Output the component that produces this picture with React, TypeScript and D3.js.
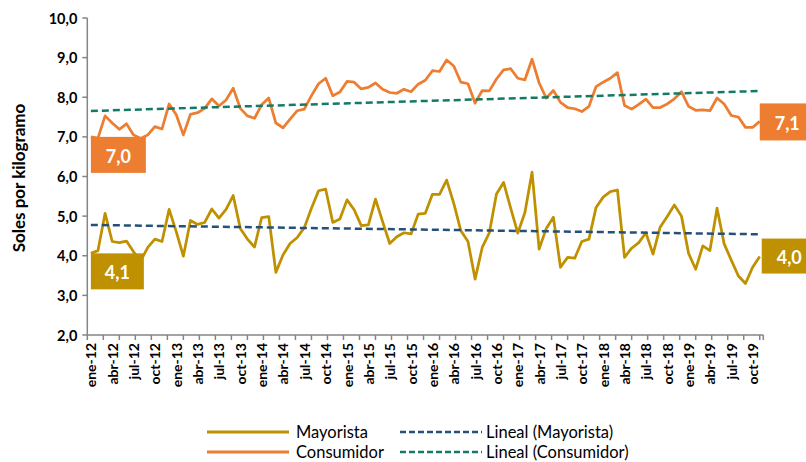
import React from "react";
import * as d3 from "d3";

const monthNames = ["ene", "feb", "mar", "abr", "may", "jun", "jul", "ago", "sep", "oct", "nov", "dic"];
const years = ["12", "13", "14", "15", "16", "17", "18", "19"];

const consumidor = [
  7.0, 6.97, 7.53, 7.35, 7.19, 7.33, 7.05, 6.96, 7.05, 7.26, 7.2, 7.83,
  7.56, 7.05, 7.57, 7.61, 7.72, 7.96, 7.78, 7.93, 8.23, 7.72, 7.53, 7.47,
  7.81, 7.98, 7.35, 7.23, 7.45, 7.66, 7.7, 8.04, 8.34, 8.48, 8.04, 8.13,
  8.4, 8.38, 8.21, 8.25, 8.36, 8.2, 8.12, 8.1, 8.2, 8.14, 8.33, 8.43,
  8.67, 8.65, 8.94, 8.79, 8.38, 8.34, 7.85, 8.17, 8.16, 8.46, 8.69, 8.72,
  8.48, 8.44, 8.96, 8.36, 7.98, 8.17, 7.87, 7.74, 7.71, 7.64, 7.77, 8.27,
  8.38, 8.48, 8.62, 7.79, 7.7, 7.82, 7.95, 7.74, 7.74, 7.83, 7.96, 8.14,
  7.77, 7.67, 7.68, 7.66, 7.98, 7.83, 7.54, 7.5, 7.24, 7.24, 7.39,
];

const mayorista = [
  4.06, 4.13, 5.07, 4.36, 4.33, 4.37, 4.1, 3.87, 4.21, 4.42, 4.36, 5.17,
  4.61, 3.99, 4.89, 4.79, 4.84, 5.18, 4.95, 5.17, 5.52, 4.69, 4.42, 4.22,
  4.96, 4.99, 3.58, 4.02, 4.31, 4.46, 4.71, 5.2, 5.64, 5.68, 4.84, 4.93,
  5.41, 5.16, 4.76, 4.78, 5.43, 4.86, 4.31, 4.48, 4.58, 4.55, 5.05, 5.07,
  5.55, 5.55, 5.91, 5.32, 4.63, 4.36, 3.41, 4.21, 4.58, 5.56, 5.85, 5.2,
  4.57, 5.09, 6.11, 4.17, 4.69, 4.97, 3.71, 3.96, 3.94, 4.36, 4.42, 5.22,
  5.48, 5.62, 5.66, 3.96, 4.19, 4.33, 4.58, 4.04, 4.72, 4.99, 5.28, 5.0,
  4.06, 3.66, 4.25, 4.13, 5.2, 4.3, 3.89, 3.49, 3.3, 3.71, 3.98,
];

const yTicks = [2, 3, 4, 5, 6, 7, 8, 9, 10];
const firstLabels = { consumidor: "7,0", mayorista: "4,1" };
const lastLabels = { consumidor: "7,1", mayorista: "4,0" };
const legendItems = ["Mayorista", "Consumidor", "Lineal (Mayorista)", "Lineal (Consumidor)"];

const categories: string[] = [];
years.forEach((yy) => monthNames.forEach((m) => categories.push(`${m}-${yy}`)));
const N = consumidor.length;
const cats = categories.slice(0, N);

const GOLD = "#BF9000";
const ORANGE = "#ED7D31";
const BLUE = "#24507A";
const TEAL = "#137A66";
const AXIS = "#858585";
const FONT = "Lato, 'Open Sans', sans-serif";

function linReg(vals: number[]) {
  const xs = vals.map((_, i) => i + 1);
  const mx = d3.mean(xs) as number;
  const my = d3.mean(vals) as number;
  let num = 0, den = 0;
  xs.forEach((x, i) => {
    num += (x - mx) * (vals[i] - my);
    den += (x - mx) * (x - mx);
  });
  const b = num / den;
  const a = my - b * mx;
  return (x: number) => a + b * x;
}

export default function App() {
  const W = 806, H = 462;
  const x0 = 87.3, x1 = 763.3, yTop = 18, yBot = 335;
  const xs = d3.scaleLinear().domain([0, N]).range([x0, x1]);
  const cx = (i: number) => xs(i + 0.5);
  const y = d3.scaleLinear().domain([2, 10]).range([yBot, yTop]);
  const line = d3.line<number>().x((_, i) => cx(i)).y((d) => y(d));

  const regC = linReg(consumidor);
  const regM = linReg(mayorista);
  const trend = (f: (x: number) => number) =>
    `M${cx(0)},${y(f(1))}L${cx(N - 1)},${y(f(N))}`;

  const tickStep = 2.25;
  const xTickPos: number[] = [];
  for (let k = 0; k * tickStep <= N; k++) xTickPos.push(k * tickStep);
  xTickPos.push(N);

  const fmt = (v: number) => d3.format(".1f")(v).replace(".", ",");

  const box = (
    x: number, yy: number, w: number, h: number, fill: string, text: string
  ) => (
    <g>
      <rect x={x} y={yy} width={w} height={h} fill={fill} />
      <text
        x={x + w / 2}
        y={yy + h / 2 + 1}
        textAnchor="middle"
        dominantBaseline="central"
        fill="#fff"
        fontWeight="bold"
        fontSize={18}
        fontFamily={FONT}
      >
        {text}
      </text>
    </g>
  );

  return (
    <svg
      width={W}
      height={H}
      style={{ position: "absolute", left: 0, top: 0, background: "#fff" }}
    >
      {/* Y axis title */}
      <text
        transform={`translate(18,178) rotate(-90)`}
        textAnchor="middle"
        dominantBaseline="central"
        fontWeight="bold"
        fontSize={17}
        fontFamily={FONT}
        fill="#000"
      >
        Soles por kilogramo
      </text>

      {/* Y axis */}
      <line x1={x0} x2={x0} y1={yTop} y2={yBot} stroke={AXIS} strokeWidth={1.5} />
      {yTicks.map((t) => (
        <g key={t}>
          <line x1={x0 - 5} x2={x0} y1={y(t)} y2={y(t)} stroke={AXIS} strokeWidth={1.5} />
          <text
            x={x0 - 10}
            y={y(t)}
            textAnchor="end"
            dominantBaseline="central"
            fontWeight="bold"
            fontSize={14.5}
            fontFamily={FONT}
            fill="#000"
          >
            {fmt(t)}
          </text>
        </g>
      ))}

      {/* X axis */}
      <line x1={x0} x2={x1} y1={yBot} y2={yBot} stroke={AXIS} strokeWidth={1.5} />
      {xTickPos.map((p, k) => (
        <line key={k} x1={xs(p)} x2={xs(p)} y1={yBot} y2={yBot + 5} stroke={AXIS} strokeWidth={1.5} />
      ))}
      {cats.map((c, i) =>
        i % 3 === 0 ? (
          <text
            key={c}
            transform={`translate(${cx(i)},${yBot + 8}) rotate(-90)`}
            textAnchor="end"
            dominantBaseline="central"
            fontWeight="bold"
            fontSize={14}
            fontFamily={FONT}
            fill="#000"
          >
            {c}
          </text>
        ) : null
      )}

      {/* series */}
      <path d={line(consumidor) || ""} fill="none" stroke={ORANGE} strokeWidth={2.75} strokeLinejoin="round" />
      <path d={line(mayorista) || ""} fill="none" stroke={GOLD} strokeWidth={2.75} strokeLinejoin="round" />
      <path d={trend(regC)} fill="none" stroke={TEAL} strokeWidth={2.5} strokeDasharray="7,4" />
      <path d={trend(regM)} fill="none" stroke={BLUE} strokeWidth={2.5} strokeDasharray="7,4" />

      {/* data labels */}
      {box(cx(0), y(consumidor[0]), 55, 36, ORANGE, firstLabels.consumidor)}
      {box(cx(0), y(mayorista[0]), 53, 36, GOLD, firstLabels.mayorista)}
      {box(cx(N - 1), y(consumidor[N - 1]) - 18, 55, 37, ORANGE, lastLabels.consumidor)}
      {box(cx(N - 1) + 2, y(mayorista[N - 1]) - 18, 55, 35, GOLD, lastLabels.mayorista)}

      {/* legend */}
      <g fontFamily={FONT} fontSize={16.5} fill="#000">
        <line x1={207} x2={289} y1={432} y2={432} stroke={GOLD} strokeWidth={3} />
        <text x={296} y={432} dominantBaseline="central">{legendItems[0]}</text>
        <line x1={207} x2={289} y1={452} y2={452} stroke={ORANGE} strokeWidth={3} />
        <text x={296} y={452} dominantBaseline="central">{legendItems[1]}</text>
        <line x1={400} x2={482} y1={432} y2={432} stroke={BLUE} strokeWidth={2.5} strokeDasharray="6,3" />
        <text x={486} y={432} dominantBaseline="central">{legendItems[2]}</text>
        <line x1={400} x2={482} y1={452} y2={452} stroke={TEAL} strokeWidth={2.5} strokeDasharray="6,3" />
        <text x={486} y={452} dominantBaseline="central">{legendItems[3]}</text>
      </g>
    </svg>
  );
}
